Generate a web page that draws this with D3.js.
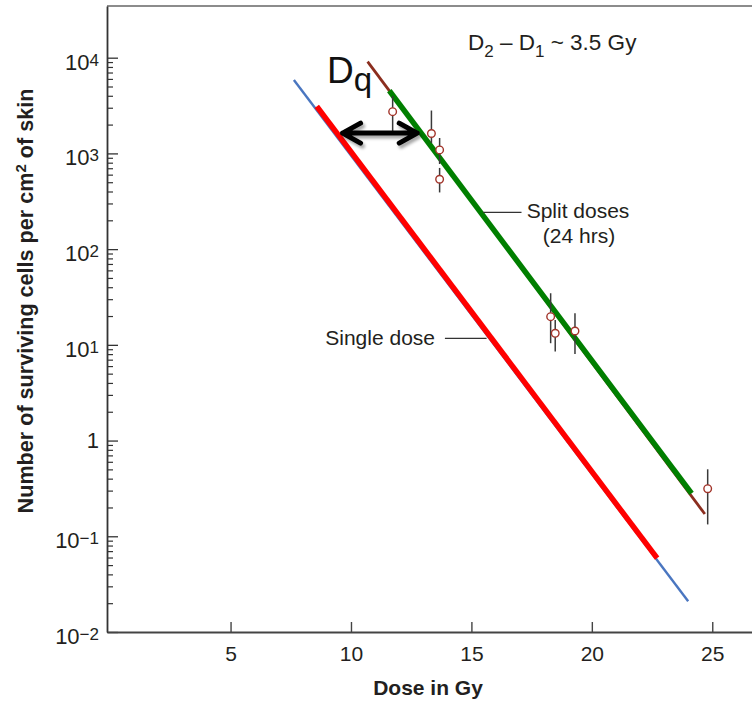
<!DOCTYPE html>
<html>
<head>
<meta charset="utf-8">
<script src="https://cdn.jsdelivr.net/npm/d3@7"></script>
<style>
  body { margin: 0; background: #fff; }
  svg { display: block; font-family: "Liberation Sans", Arial, sans-serif; }
</style>
</head>
<body>
<svg id="chart" width="752" height="703"></svg>
<script>
// x ticks and y tick labels (base + exponent)
const doseTicks = [5, 10, 15, 20, 25];
const cellTicks = [1e-2, 1e-1, 1, 10, 100, 1e3, 1e4];
const cellTickBase = ['10', '10', '1', '10', '10', '10', '10'];
const cellTickExp = ['\u22122', '\u22121', '', '1', '2', '3', '4'];

// survival curves: [dose, cells] end points
const singleFitDose = [7.63, 24.0];
const singleFitCells = [5850, 0.021];
const singleDose = [8.58, 22.71];
const singleCells = [3100, 0.059];
const splitFitDose = [10.69, 24.69];
const splitFitCells = [9080, 0.171];
const splitDose = [11.59, 24.14];
const splitCells = [4520, 0.281];

// measured points with error bars
const pointDose = [11.73, 13.34, 13.68, 13.68, 18.29, 18.48, 19.30, 24.81];
const pointCells = [2730, 1615, 1087, 537, 19.7, 13.2, 13.96, 0.314];
const pointLow = [1714, 1285, 775, 391, 10.4, 8.5, 8.04, 0.133];
const pointHigh = [3980, 2805, 1449, 705, 34.6, 18.2, 21.4, 0.501];

// Dq arrow (dose from, dose to, level) and leader lines
const dqArrow = [9.65, 12.75, 1630];
const splitLeader = [15.49, 17.08, 242];
const singleLeader = [13.9, 15.63, 11.7];

const svg = d3.select('#chart');
const ink = '#231f20';

const x = d3.scaleLinear().domain([-0.13, 26.65]).range([107, 752]);
const y = d3.scaleLog().domain([1e-2, Math.pow(10, 4.54)]).range([632, 6]);

const defs = svg.append('defs');
defs.append('filter').attr('id', 'shadow')
    .attr('x', '-20%').attr('y', '-50%').attr('width', '140%').attr('height', '200%')
  .append('feDropShadow')
    .attr('dx', 2).attr('dy', 3).attr('stdDeviation', 1.8)
    .attr('flood-color', '#000').attr('flood-opacity', 0.35);

// top frame line
svg.append('line')
    .attr('x1', x.range()[0]).attr('x2', x.range()[1])
    .attr('y1', y.range()[1]).attr('y2', y.range()[1])
    .attr('stroke', '#8c8c8c').attr('stroke-width', 2.2);

// y axis: major + minor ticks
const minorTicks = [];
for (let e = -2; e < 4; e++) {
    for (let m = 2; m <= 9; m++) minorTicks.push(m * Math.pow(10, e));
}
const yAxis = svg.append('g')
    .attr('transform', `translate(${x.range()[0]},0)`)
    .call(d3.axisRight(y).tickValues(cellTicks).tickSizeInner(11).tickSizeOuter(0).tickFormat(''));
yAxis.select('.domain').attr('stroke', '#333').attr('stroke-width', 1.8);
yAxis.selectAll('.tick line').attr('stroke', '#333').attr('stroke-width', 1.3);

const yMinor = svg.append('g')
    .attr('transform', `translate(${x.range()[0]},0)`)
    .call(d3.axisRight(y).tickValues(minorTicks).tickSize(6).tickFormat(''));
yMinor.select('.domain').remove();
yMinor.selectAll('.tick line').attr('stroke', '#333').attr('stroke-width', 1.2);

// y tick labels with superscripts
const yLab = svg.append('g')
    .selectAll('text')
    .data(cellTicks)
    .join('text')
    .attr('x', 99)
    .attr('y', (d, i) => y(d) + (cellTickExp[i] ? 12 : 7.5))
    .attr('text-anchor', 'end')
    .attr('fill', ink)
    .attr('font-size', 22);
yLab.append('tspan').text((d, i) => cellTickBase[i]);
yLab.append('tspan')
    .attr('font-size', 17)
    .attr('dy', -4)
    .text((d, i) => cellTickExp[i]);

// x axis
const xAxis = svg.append('g')
    .attr('transform', `translate(0,${y.range()[0]})`)
    .call(d3.axisBottom(x).tickValues(doseTicks).tickSizeInner(-10).tickSizeOuter(0).tickPadding(14));
xAxis.select('.domain').attr('stroke', '#444').attr('stroke-width', 2);
xAxis.selectAll('.tick line').attr('stroke', '#444').attr('stroke-width', 1.4);
xAxis.selectAll('.tick text')
    .attr('font-size', 21)
    .attr('font-family', '"Liberation Sans", Arial, sans-serif')
    .attr('fill', ink);

// axis titles
svg.append('text')
    .attr('x', 428).attr('y', 695)
    .attr('text-anchor', 'middle')
    .attr('font-size', 21).attr('font-weight', 'bold')
    .attr('fill', ink)
    .text('Dose in Gy');

const yTitle = svg.append('text')
    .attr('transform', 'rotate(-90)')
    .attr('x', -301).attr('y', 33)
    .attr('text-anchor', 'middle')
    .attr('font-size', 21.6).attr('font-weight', 'bold')
    .attr('fill', ink);
yTitle.append('tspan').text('Number of surviving cells per cm');
yTitle.append('tspan').attr('font-size', 15).attr('dy', -7).text('2');
yTitle.append('tspan').attr('dy', 7).text(' of skin');

// survival lines
const line = d3.line().x(d => x(d[0])).y(d => y(d[1]));
const seg = (doses, cells) => doses.map((d, i) => [d, cells[i]]);

svg.append('path')
    .datum(seg(singleFitDose, singleFitCells))
    .attr('d', line).attr('fill', 'none')
    .attr('stroke', '#4a76c0').attr('stroke-width', 2.4);
svg.append('path')
    .datum(seg(singleDose, singleCells))
    .attr('d', line).attr('fill', 'none')
    .attr('stroke', '#ff0000').attr('stroke-width', 5.5);
svg.append('path')
    .datum(seg(splitFitDose, splitFitCells))
    .attr('d', line).attr('fill', 'none')
    .attr('stroke', '#8b2e1f').attr('stroke-width', 2.8);
svg.append('path')
    .datum(seg(splitDose, splitCells))
    .attr('d', line).attr('fill', 'none')
    .attr('stroke', '#007f00').attr('stroke-width', 5.5);

// error bars and points
svg.append('g')
    .selectAll('line')
    .data(pointDose)
    .join('line')
    .attr('x1', d => x(d)).attr('x2', d => x(d))
    .attr('y1', (d, i) => y(pointHigh[i]))
    .attr('y2', (d, i) => y(pointLow[i]))
    .attr('stroke', '#3a3a3a').attr('stroke-width', 1.5);

svg.append('g')
    .selectAll('circle')
    .data(pointDose)
    .join('circle')
    .attr('cx', d => x(d))
    .attr('cy', (d, i) => y(pointCells[i]))
    .attr('r', 3.8)
    .attr('fill', '#fff')
    .attr('stroke', '#a2342a').attr('stroke-width', 1.4);

// leader lines
[splitLeader, singleLeader].forEach(l => {
    svg.append('line')
        .attr('x1', x(l[0])).attr('x2', x(l[1]))
        .attr('y1', y(l[2])).attr('y2', y(l[2]))
        .attr('stroke', '#333').attr('stroke-width', 1.3);
});

// Dq double arrow
const ax1 = x(dqArrow[0]), ax2 = x(dqArrow[1]), ay = y(dqArrow[2]);
svg.append('path')
    .attr('d', `M${ax1},${ay}L${ax2},${ay}` +
        `M${ax1 + 18},${ay - 10}L${ax1},${ay}L${ax1 + 18},${ay + 10}` +
        `M${ax2 - 18},${ay - 10}L${ax2},${ay}L${ax2 - 18},${ay + 10}`)
    .attr('fill', 'none')
    .attr('stroke', '#000').attr('stroke-width', 5)
    .attr('stroke-linecap', 'round').attr('stroke-linejoin', 'round')
    .attr('filter', 'url(#shadow)');

// annotations
const dq = svg.append('text')
    .attr('x', 327).attr('y', 83)
    .attr('font-size', 37).attr('fill', '#111');
dq.append('tspan').text('D');
dq.append('tspan').attr('font-size', 33).attr('dy', 8).text('q');

const dd = svg.append('text')
    .attr('x', 468).attr('y', 50)
    .attr('font-size', 22.5).attr('fill', ink);
dd.append('tspan').text('D');
dd.append('tspan').attr('font-size', 17).attr('dy', 7).text('2');
dd.append('tspan').attr('dy', -7).text(' \u2013 D');
dd.append('tspan').attr('font-size', 17).attr('dy', 7).text('1');
dd.append('tspan').attr('dy', -7).text(' ~ 3.5 Gy');

svg.append('text')
    .attr('x', 578).attr('y', 218)
    .attr('text-anchor', 'middle')
    .attr('font-size', 21).attr('fill', ink)
    .text('Split doses');
svg.append('text')
    .attr('x', 579).attr('y', 243)
    .attr('text-anchor', 'middle')
    .attr('font-size', 21).attr('fill', ink)
    .text('(24 hrs)');
svg.append('text')
    .attr('x', 435).attr('y', 345)
    .attr('text-anchor', 'end')
    .attr('font-size', 21).attr('fill', ink)
    .text('Single dose');
</script>
</body>
</html>
